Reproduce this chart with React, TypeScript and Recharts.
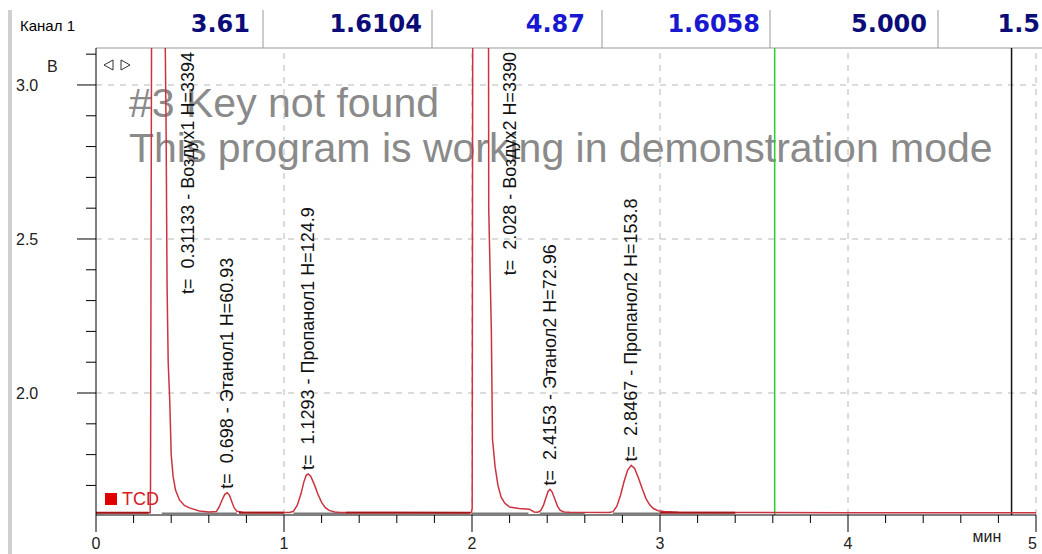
import { ComposedChart, Line, Scatter, XAxis, YAxis, ReferenceLine } from 'recharts';

const W = 1042;
const H = 554;
const PLOT = { left: 96, top: 48, right: 6, bottom: 39 };
const AXIS_Y = H - PLOT.bottom;

const timeDomain = [0, 5];
const voltDomain = [1.604, 3.12];
const timeTicks = [0, 0.2, 0.4, 0.6, 0.8, 1, 1.2, 1.4, 1.6, 1.8, 2, 2.2, 2.4, 2.6, 2.8, 3, 3.2, 3.4, 3.6, 3.8, 4, 4.2, 4.4, 4.6, 4.8, 5];
const timeGrid = [1, 2, 3, 4, 5];
const voltTicks = [1.7, 1.8, 1.9, 2.0, 2.1, 2.2, 2.3, 2.4, 2.5, 2.6, 2.7, 2.8, 2.9, 3.0, 3.1];
const voltLabels = [2.0, 2.5, 3.0];

// cursors shown in header
const cursorGreen = 3.61;
const cursorBlack = 4.87;
const headerValues = [
  { text: '3.61', color: '#0c0c78' },
  { text: '1.6104', color: '#0c0c78' },
  { text: '4.87', color: '#1818d0' },
  { text: '1.6058', color: '#1818d0' },
  { text: '5.000', color: '#0c0c78' },
  { text: '1.5', color: '#0c0c78' },
];

// TCD signal, minutes / volts
const signal = [
  { t: 0, v: 1.611 }, { t: 0.1, v: 1.611 }, { t: 0.2, v: 1.611 }, { t: 0.28, v: 1.611 },
  { t: 0.288, v: 1.611 }, { t: 0.29, v: 1.7 }, { t: 0.296, v: 3.3 }, { t: 0.311, v: 5.0 },
  { t: 0.35, v: 4.0 }, { t: 0.368, v: 3.15 }, { t: 0.373, v: 2.85 }, { t: 0.378, v: 2.35 },
  { t: 0.384, v: 2.1 }, { t: 0.392, v: 1.98 }, { t: 0.4, v: 1.8 }, { t: 0.41, v: 1.73 },
  { t: 0.423, v: 1.685 }, { t: 0.444, v: 1.653 }, { t: 0.47, v: 1.635 }, { t: 0.497, v: 1.627 },
  { t: 0.55, v: 1.617 }, { t: 0.6, v: 1.614 }, { t: 0.64, v: 1.615 }, { t: 0.655, v: 1.63 },
  { t: 0.67, v: 1.652 }, { t: 0.685, v: 1.671 }, { t: 0.698, v: 1.676 }, { t: 0.71, v: 1.668 },
  { t: 0.722, v: 1.648 }, { t: 0.735, v: 1.627 }, { t: 0.75, v: 1.616 }, { t: 0.78, v: 1.613 },
  { t: 0.9, v: 1.612 }, { t: 1.03, v: 1.612 }, { t: 1.05, v: 1.616 }, { t: 1.07, v: 1.635 },
  { t: 1.09, v: 1.672 }, { t: 1.105, v: 1.71 }, { t: 1.118, v: 1.733 }, { t: 1.129, v: 1.737 },
  { t: 1.142, v: 1.73 }, { t: 1.16, v: 1.705 }, { t: 1.18, v: 1.672 }, { t: 1.2, v: 1.645 },
  { t: 1.22, v: 1.628 }, { t: 1.24, v: 1.619 }, { t: 1.27, v: 1.614 }, { t: 1.3, v: 1.612 },
  { t: 1.6, v: 1.612 }, { t: 1.995, v: 1.611 }, { t: 2.001, v: 1.625 }, { t: 2.004, v: 3.3 },
  { t: 2.028, v: 5.0 }, { t: 2.075, v: 3.9 }, { t: 2.088, v: 3.15 }, { t: 2.089, v: 2.6 },
  { t: 2.103, v: 2.2 }, { t: 2.109, v: 1.85 }, { t: 2.123, v: 1.76 }, { t: 2.138, v: 1.7 },
  { t: 2.155, v: 1.662 }, { t: 2.175, v: 1.642 }, { t: 2.2, v: 1.63 }, { t: 2.25, v: 1.625 },
  { t: 2.305, v: 1.623 }, { t: 2.33, v: 1.614 }, { t: 2.35, v: 1.613 }, { t: 2.365, v: 1.618 },
  { t: 2.38, v: 1.635 }, { t: 2.395, v: 1.663 }, { t: 2.405, v: 1.681 }, { t: 2.415, v: 1.687 },
  { t: 2.425, v: 1.68 }, { t: 2.44, v: 1.657 }, { t: 2.455, v: 1.632 }, { t: 2.47, v: 1.619 },
  { t: 2.49, v: 1.614 }, { t: 2.52, v: 1.613 }, { t: 2.73, v: 1.612 }, { t: 2.75, v: 1.615 },
  { t: 2.77, v: 1.632 }, { t: 2.79, v: 1.668 }, { t: 2.81, v: 1.715 }, { t: 2.828, v: 1.75 },
  { t: 2.847, v: 1.765 }, { t: 2.865, v: 1.755 }, { t: 2.885, v: 1.725 }, { t: 2.905, v: 1.69 },
  { t: 2.925, v: 1.658 }, { t: 2.945, v: 1.637 }, { t: 2.965, v: 1.625 }, { t: 2.99, v: 1.618 },
  { t: 3.02, v: 1.615 }, { t: 3.1, v: 1.613 }, { t: 3.4, v: 1.612 }, { t: 4.0, v: 1.611 },
  { t: 4.5, v: 1.611 }, { t: 5.0, v: 1.611 },
];

// integration baselines (gray) and darker baseline stretches
const integrationSegments = [[0.35, 0.75], [1.05, 1.33], [2.0, 2.3], [2.36, 2.6], [2.75, 3.0]];
const darkSegments = [[0, 0.28], [0.76, 1.0], [1.33, 1.99], [3.0, 3.4]];

const peaks = [
  { t: 0.31133, time: '0.31133', name: 'Воздух1', h: '3394', apex: 5.0 },
  { t: 0.698, time: '0.698', name: 'Этанол1', h: '60.93', apex: 1.676 },
  { t: 1.1293, time: '1.1293', name: 'Пропанол1', h: '124.9', apex: 1.737 },
  { t: 2.028, time: '2.028', name: 'Воздух2', h: '3390', apex: 5.0 },
  { t: 2.4153, time: '2.4153', name: 'Этанол2', h: '72.96', apex: 1.687 },
  { t: 2.8467, time: '2.8467', name: 'Пропанол2', h: '153.8', apex: 1.765 },
];

const segmentsToData = (segs: number[][], v: number) =>
  segs.flatMap(([a, b]) => [{ t: a, v }, { t: b, v }, { t: b + 0.001, v: null }]);

const FONT = '"Liberation Sans", Arial, sans-serif';

const YTick = (props: any) => {
  const { y, payload } = props;
  const major = voltLabels.some((m) => Math.abs(m - payload.value) < 1e-6);
  return (
    <g>
      <line x1={PLOT.left - (major ? 19 : 10)} x2={PLOT.left} y1={y} y2={y} stroke="#000" />
      {major && (
        <text x={16} y={y + 6} fontSize={16} fontFamily={FONT} fill="#222">
          {payload.value.toFixed(1)}
        </text>
      )}
    </g>
  );
};

const XTick = (props: any) => {
  const { x, payload } = props;
  const v = payload.value;
  const major = Math.abs(v - Math.round(v)) < 1e-6;
  const last = v === timeDomain[1];
  return (
    <g>
      <line x1={x} x2={x} y1={AXIS_Y} y2={AXIS_Y + (major ? 17 : 8)} stroke="#000" />
      {major && (
        <text x={last ? x + 1 : x} y={549} textAnchor={last ? 'end' : 'middle'} fontSize={16} fontFamily={FONT} fill="#222">
          {v}
        </text>
      )}
    </g>
  );
};

const PeakLabel = (props: any) => {
  const { cx, cy, payload } = props;
  if (cx == null || cy == null) return null;
  const off = cy < PLOT.top;
  const x = off ? cx + 33 : cx;
  const y = off ? PLOT.top + 4 : cy - 4;
  return (
    <text
      x={x}
      y={y}
      transform={`rotate(-90 ${x} ${y})`}
      textAnchor={off ? 'end' : 'start'}
      dominantBaseline="central"
      fontSize={18}
      fontFamily={FONT}
      fill="#111"
      style={{ whiteSpace: 'pre' }}
    >
      {`t=  ${payload.time} - ${payload.name} H=${payload.h}`}
    </text>
  );
};

const headerEnds = [250, 422, 585, 760, 927, 1040];
const headerSeps = [263, 432, 602, 770, 938];

function Background() {
  return (
    <svg width={W} height={H} style={{ position: 'absolute', left: 0, top: 0 }}>
      <rect x={0} y={0} width={W} height={H} fill="#fff" />
      <rect x={8} y={10} width={4} height={H - 10} fill="#cfcfcf" />
      <text x={20} y={31} fontSize={15} fontFamily={FONT} fill="#000">Канал 1</text>
      {headerValues.map((h, i) => (
        <text
          key={i}
          x={headerEnds[i]}
          y={32}
          textAnchor="end"
          fontSize={24}
          fontWeight="bold"
          fontFamily='"DejaVu Sans", Verdana, sans-serif'
          fill={h.color}
        >
          {h.text}
        </text>
      ))}
      {headerSeps.map((x) => (
        <line key={x} x1={x} x2={x} y1={10} y2={PLOT.top} stroke="#999" />
      ))}
      <line x1={PLOT.left} x2={W} y1={PLOT.top} y2={PLOT.top} stroke="#999" />
      <text x={129} y={117} fontSize={41} fontFamily={FONT} fill="#8a8a8a">#3 Key not found</text>
      <text x={129} y={162} fontSize={41} fontFamily={FONT} fill="#8a8a8a">This program is working in demonstration mode</text>
      <text x={47} y={72} fontSize={16} fontFamily={FONT} fill="#222">В</text>
      <polygon points="104,65 113,60 113,70" fill="none" stroke="#333" />
      <polygon points="121,60 130,65 121,70" fill="none" stroke="#333" />
      <text x={987} y={542} textAnchor="middle" fontSize={16} fontFamily={FONT} fill="#222">мин</text>
      <rect x={105} y={493} width={12} height={12} fill="#e00000" />
      <text x={122} y={505} fontSize={18} fontFamily={FONT} fill="#d42020">TCD</text>
    </svg>
  );
}

export default function App() {
  return (
    <div style={{ position: 'absolute', left: 0, top: 0, width: W, height: H, overflow: 'hidden', background: '#fff' }}>
      <Background />
      <div style={{ position: 'absolute', left: 0, top: 0 }}>
        <ComposedChart width={W} height={H} data={signal} margin={{ top: PLOT.top, right: PLOT.right, bottom: 0, left: 0 }}>
          <XAxis
            type="number"
            dataKey="t"
            domain={timeDomain}
            ticks={timeTicks}
            interval={0}
            allowDataOverflow
            height={PLOT.bottom}
            tickLine={false}
            axisLine={{ stroke: '#000' }}
            tick={(p: any) => <XTick {...p} />}
          />
          <YAxis
            type="number"
            domain={voltDomain}
            ticks={voltTicks}
            interval={0}
            allowDataOverflow
            width={PLOT.left}
            tickLine={false}
            axisLine={{ stroke: '#000' }}
            tick={(p: any) => <YTick {...p} />}
          />
          {voltLabels.map((v) => (
            <ReferenceLine key={'h' + v} y={v} stroke="#b8b8b8" strokeDasharray="6 6" />
          ))}
          {timeGrid.map((t) => (
            <ReferenceLine key={'v' + t} x={t} stroke="#b8b8b8" strokeDasharray="6 6" />
          ))}
          <ReferenceLine x={cursorGreen} stroke="#2ecc2e" strokeWidth={1.5} />
          <ReferenceLine x={cursorBlack} stroke="#111" strokeWidth={1.5} />
          <Line
            data={segmentsToData(integrationSegments, 1.6095)}
            dataKey="v"
            type="linear"
            stroke="#7a7a7a"
            strokeWidth={1.5}
            dot={false}
            connectNulls={false}
            isAnimationActive={false}
          />
          <Line
            dataKey="v"
            type="linear"
            stroke="#cc3340"
            strokeWidth={1.5}
            dot={false}
            isAnimationActive={false}
          />
          <Line
            data={segmentsToData(darkSegments, 1.611)}
            dataKey="v"
            type="linear"
            stroke="#a01818"
            strokeWidth={2}
            dot={false}
            connectNulls={false}
            isAnimationActive={false}
          />
          <Scatter data={peaks} dataKey="apex" shape={(p: any) => <PeakLabel {...p} />} isAnimationActive={false} />
        </ComposedChart>
      </div>
    </div>
  );
}
